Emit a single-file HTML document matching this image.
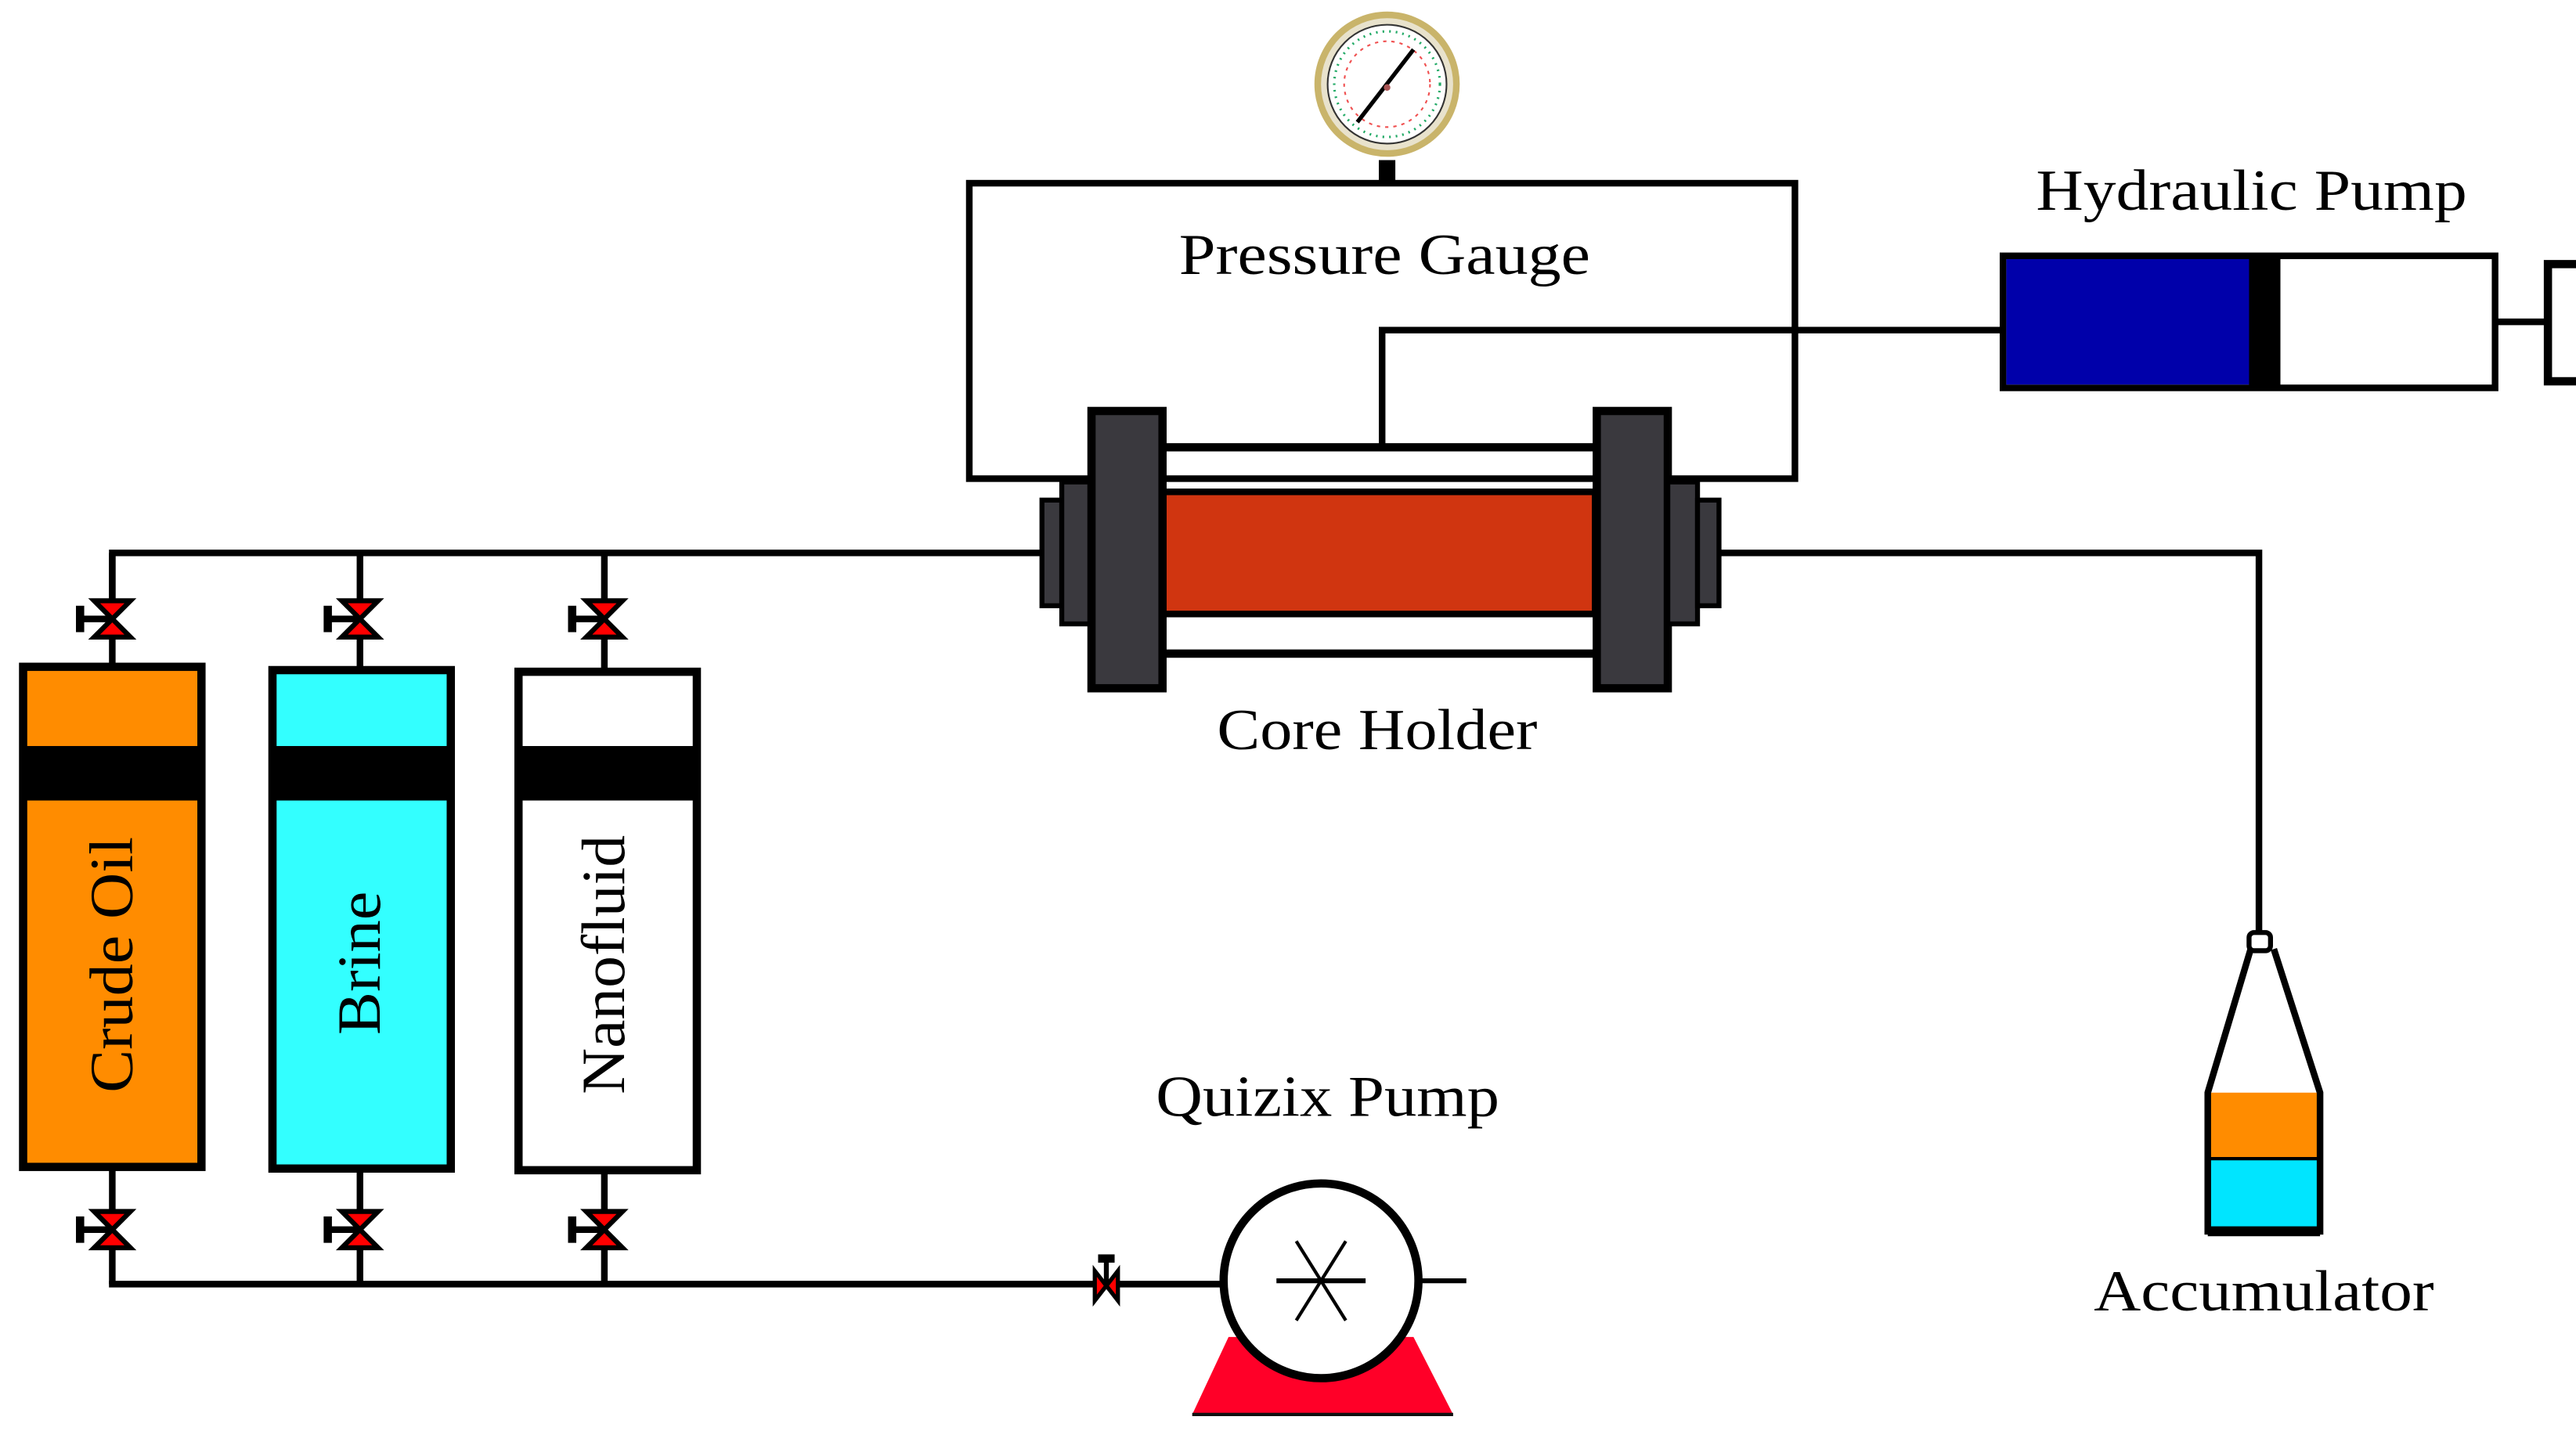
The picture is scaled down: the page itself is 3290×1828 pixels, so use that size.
<!DOCTYPE html>
<html><head><meta charset="utf-8"><style>
html,body{margin:0;padding:0;background:#fff;}
svg{display:block;}
text{font-family:"Liberation Serif",serif;fill:#000;}
</style></head><body>
<svg width="3290" height="1828" viewBox="0 0 1560 867" preserveAspectRatio="none" xmlns="http://www.w3.org/2000/svg">
<defs>
<g id="valve">
  <polygon points="-11,-11 11,-11 0,0" fill="#ff0000" stroke="#000" stroke-width="3"/>
  <polygon points="-11,11 11,11 0,0" fill="#ff0000" stroke="#000" stroke-width="3"/>
  <rect x="-20" y="-2" width="20" height="4" fill="#000"/>
  <rect x="-22" y="-8" width="5" height="16" fill="#000"/>
</g>
</defs>
<rect width="1560" height="867" fill="#fff"/>

<!-- gauge -->
<circle cx="840" cy="51" r="44" fill="#c9b46a"/>
<circle cx="840" cy="51" r="40" fill="#e8e2cc"/>
<circle cx="840" cy="51" r="36" fill="#fff" stroke="#333" stroke-width="1"/>
<circle cx="840" cy="51" r="26" fill="none" stroke="#f05050" stroke-width="1" stroke-dasharray="2,3"/>
<circle cx="840" cy="51" r="32" fill="none" stroke="#2a6" stroke-width="1.5" stroke-dasharray="1,3"/>
<line x1="822" y1="74" x2="856" y2="30" stroke="#000" stroke-width="2.5"/>
<circle cx="840" cy="53" r="2" fill="#a55"/>
<rect x="835" y="97" width="10" height="14" fill="#000"/>

<!-- pressure box -->
<rect x="587" y="111" width="500" height="179" fill="none" stroke="#000" stroke-width="4"/>
<text x="714" y="166" font-size="35" textLength="249" lengthAdjust="spacingAndGlyphs">Pressure Gauge</text>
<polyline points="837,272 837,200 1213,200" fill="none" stroke="#000" stroke-width="4"/>

<!-- hydraulic pump -->
<text x="1233" y="127" font-size="35" textLength="261" lengthAdjust="spacingAndGlyphs">Hydraulic Pump</text>
<rect x="1213" y="155" width="298" height="80" fill="#fff" stroke="#000" stroke-width="4"/>
<rect x="1215" y="157" width="148" height="76" fill="#0000aa"/>
<rect x="1362" y="155" width="19" height="80" fill="#000"/>
<line x1="1511" y1="195" x2="1541" y2="195" stroke="#000" stroke-width="4"/>
<polyline points="1560,160 1543,160 1543,231 1560,231" fill="none" stroke="#000" stroke-width="5"/>

<!-- main lines -->
<polyline points="68,372 68,335 632,335" fill="none" stroke="#000" stroke-width="4"/>
<line x1="218" y1="335" x2="218" y2="405" stroke="#000" stroke-width="4"/>
<line x1="366" y1="335" x2="366" y2="406" stroke="#000" stroke-width="4"/>
<line x1="68" y1="335" x2="68" y2="403" stroke="#000" stroke-width="4"/>
<polyline points="1040,335 1368,335 1368,566" fill="none" stroke="#000" stroke-width="4"/>

<!-- core holder -->
<line x1="703" y1="271" x2="968" y2="271" stroke="#000" stroke-width="5"/>
<line x1="703" y1="396" x2="968" y2="396" stroke="#000" stroke-width="5"/>
<rect x="704" y="298" width="262" height="74" fill="#d03510" stroke="#000" stroke-width="4"/>
<rect x="631" y="303" width="12" height="64" fill="#3a393e" stroke="#000" stroke-width="3"/>
<rect x="643" y="292" width="18" height="86" fill="#3a393e" stroke="#000" stroke-width="3"/>
<rect x="661" y="249" width="43" height="168" fill="#3a393e" stroke="#000" stroke-width="5"/>
<rect x="967" y="249" width="43" height="168" fill="#3a393e" stroke="#000" stroke-width="5"/>
<rect x="1010" y="292" width="18" height="86" fill="#3a393e" stroke="#000" stroke-width="3"/>
<rect x="1028" y="303" width="13" height="64" fill="#3a393e" stroke="#000" stroke-width="3"/>
<text x="737" y="454" font-size="35" textLength="194" lengthAdjust="spacingAndGlyphs">Core Holder</text>

<!-- cylinders -->
<rect x="14" y="404" width="108" height="303" fill="#ff8c00" stroke="#000" stroke-width="5"/>
<rect x="14" y="452" width="108" height="33" fill="#000"/>
<rect x="165" y="406" width="108" height="302" fill="#33ffff" stroke="#000" stroke-width="5"/>
<rect x="165" y="452" width="108" height="33" fill="#000"/>
<rect x="314" y="407" width="108" height="302" fill="#fff" stroke="#000" stroke-width="5"/>
<rect x="314" y="452" width="108" height="33" fill="#000"/>
<text transform="translate(80,662) rotate(-90)" font-size="37" textLength="155" lengthAdjust="spacingAndGlyphs">Crude Oil</text>
<text transform="translate(230,627) rotate(-90)" font-size="37" textLength="87" lengthAdjust="spacingAndGlyphs">Brine</text>
<text transform="translate(378,663) rotate(-90)" font-size="37" textLength="157" lengthAdjust="spacingAndGlyphs">Nanofluid</text>

<!-- bottom lines -->
<line x1="68" y1="707" x2="68" y2="778" stroke="#000" stroke-width="4"/>
<line x1="218" y1="708" x2="218" y2="778" stroke="#000" stroke-width="4"/>
<line x1="366" y1="709" x2="366" y2="778" stroke="#000" stroke-width="4"/>
<line x1="66" y1="778" x2="742" y2="778" stroke="#000" stroke-width="4"/>

<!-- valves -->
<use href="#valve" x="68" y="375"/>
<use href="#valve" x="218" y="375"/>
<use href="#valve" x="366" y="375"/>
<use href="#valve" x="68" y="745"/>
<use href="#valve" x="218" y="745"/>
<use href="#valve" x="366" y="745"/>
<g transform="translate(670,779) rotate(90)">
  <polygon points="-9,-7 9,-7 0,0" fill="#ff0000" stroke="#000" stroke-width="2.5"/>
  <polygon points="-9,7 9,7 0,0" fill="#ff0000" stroke="#000" stroke-width="2.5"/>
  <rect x="-16" y="-1.5" width="16" height="3" fill="#000"/>
  <rect x="-19" y="-5" width="5" height="10" fill="#000"/>
</g>

<!-- quizix pump -->
<text x="700" y="676" font-size="35" textLength="208" lengthAdjust="spacingAndGlyphs">Quizix Pump</text>
<polygon points="744,810 856,810 880,857 722,857" fill="#ff0028"/>
<line x1="722" y1="857" x2="880" y2="857" stroke="#111" stroke-width="2"/>
<circle cx="800" cy="776" r="59" fill="#fff" stroke="#000" stroke-width="5"/>
<line x1="773" y1="776" x2="827" y2="776" stroke="#000" stroke-width="3"/>
<line x1="785" y1="752" x2="815" y2="800" stroke="#000" stroke-width="2"/>
<line x1="815" y1="752" x2="785" y2="800" stroke="#000" stroke-width="2"/>
<line x1="859" y1="776" x2="888" y2="776" stroke="#000" stroke-width="3"/>

<!-- accumulator -->
<rect x="1338" y="662" width="66" height="40" fill="#ff8c00"/>
<rect x="1338" y="702" width="66" height="42" fill="#00e5ff"/>
<line x1="1338" y1="702" x2="1404" y2="702" stroke="#000" stroke-width="2"/>
<polyline points="1363,575 1337,662 1337,746 1405,746 1405,662 1377,575" fill="none" stroke="#000" stroke-width="4"/>
<rect x="1337" y="743" width="68" height="6" fill="#000"/>
<rect x="1362" y="565" width="13" height="11" rx="3" fill="#fff" stroke="#000" stroke-width="3"/>
<text x="1268" y="794" font-size="35" textLength="206" lengthAdjust="spacingAndGlyphs">Accumulator</text>
</svg>
</body></html>
